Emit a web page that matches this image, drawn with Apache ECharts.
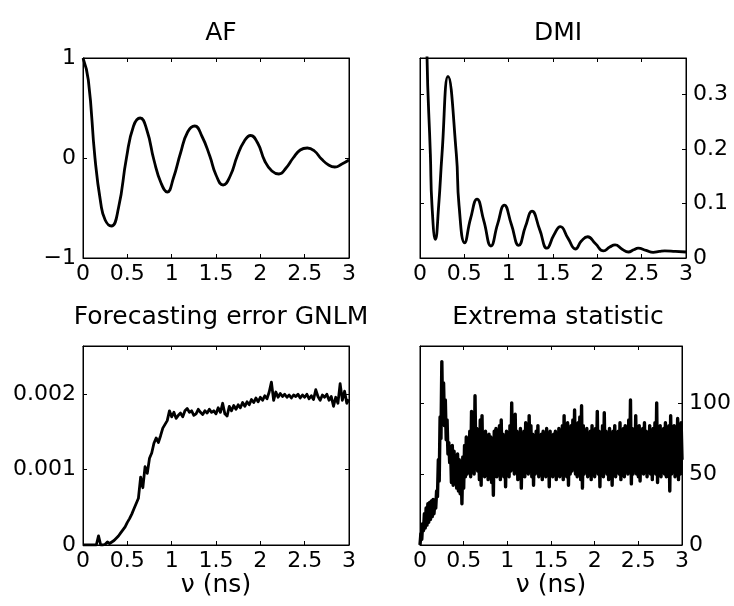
<!DOCTYPE html>
<html>
<head>
<meta charset="utf-8">
<script src="https://cdn.jsdelivr.net/npm/echarts@6/dist/echarts.min.js"></script>
<style>
html,body{margin:0;padding:0;background:#fff;}
#chart{width:734px;height:606px;}
</style>
</head>
<body>
<div id="chart"></div>
<script>
// ---------- DATA ----------
var panelTitles = ['AF', 'DMI', 'Forecasting error GNLM', 'Extrema statistic'];
var xLabel = '\u03bd (ns)';
var xTicks = [0, 0.5, 1, 1.5, 2, 2.5, 3];

// AF (autocorrelation function): [nu, value]
var afX = [0, 0.06, 0.135, 0.2, 0.25, 0.32, 0.4, 0.49, 0.57, 0.645, 0.72, 0.8, 0.88, 0.95, 1.02, 1.1, 1.18, 1.26, 1.34, 1.43, 1.5, 1.58, 1.66, 1.74, 1.82, 1.89, 1.97, 2.05, 2.13, 2.21, 2.29, 2.37, 2.45, 2.53, 2.61, 2.69, 2.77, 2.84, 2.92, 3.0];
var afY = [1.0, 0.78, 0.0, -0.45, -0.62, -0.68, -0.5, 0.0, 0.32, 0.40, 0.28, -0.02, -0.25, -0.34, -0.2, 0.05, 0.26, 0.32, 0.22, 0.02, -0.17, -0.27, -0.18, 0.02, 0.17, 0.225, 0.15, -0.03, -0.13, -0.16, -0.1, 0.0, 0.08, 0.1, 0.07, -0.01, -0.07, -0.09, -0.06, -0.02];

// DMI: [nu, value]
var dmiX = [0.04, 0.079, 0.117, 0.135, 0.174, 0.211, 0.248, 0.316, 0.41, 0.44, 0.504, 0.57, 0.643, 0.72, 0.80, 0.875, 0.951, 1.03, 1.113, 1.19, 1.263, 1.35, 1.432, 1.51, 1.583, 1.67, 1.753, 1.82, 1.891, 1.98, 2.07, 2.14, 2.2, 2.28, 2.35, 2.41, 2.46, 2.55, 2.63, 2.7, 2.76, 2.88, 3.0];
var dmiY = [0.9, 0.37, 0.19, 0.097, 0.034, 0.097, 0.19, 0.333, 0.19, 0.097, 0.028, 0.072, 0.108, 0.068, 0.022, 0.062, 0.097, 0.062, 0.023, 0.058, 0.086, 0.052, 0.018, 0.042, 0.0575, 0.036, 0.0165, 0.031, 0.039, 0.026, 0.013, 0.02, 0.024, 0.016, 0.011, 0.015, 0.018, 0.014, 0.0104, 0.012, 0.013, 0.012, 0.011];

// Forecasting error GNLM, sampled every 0.025 ns from 0
var fcStep = 0.025;
var fcY = [0, 0, 0, 0, 0, 0, 0, 0.00012, 0, 0, 0.00001, 0.00004, 0.00002, 0.00004, 0.00006, 0.00009, 0.00012, 0.00016, 0.0002, 0.00024,
  0.0003, 0.00035, 0.00041, 0.00048, 0.00055, 0.00062, 0.0009, 0.00076, 0.00104, 0.00095, 0.00115, 0.00122, 0.00135, 0.00142, 0.00136, 0.00145, 0.00155, 0.0016, 0.00165, 0.00178,
  0.0017, 0.00176, 0.00168, 0.00172, 0.00175, 0.0017, 0.00178, 0.00181, 0.00176, 0.00178, 0.00172, 0.00174, 0.0018, 0.00176, 0.00173, 0.00178, 0.00175, 0.0018, 0.00176, 0.00178,
  0.00174, 0.00182, 0.00176, 0.00188, 0.00174, 0.00171, 0.00184, 0.00178, 0.00185, 0.0018, 0.00186, 0.00182, 0.00189, 0.00184, 0.0019, 0.00186, 0.00193, 0.00189, 0.00195, 0.0019,
  0.00196, 0.00192, 0.00198, 0.00194, 0.00203, 0.00216, 0.00192, 0.00203, 0.00196, 0.00201, 0.00197, 0.002, 0.00196, 0.00199, 0.00195, 0.00199, 0.00197, 0.002, 0.00195, 0.00199,
  0.00196, 0.002, 0.00194, 0.00198, 0.00193, 0.00206, 0.00197, 0.00192, 0.00199, 0.00196, 0.002, 0.00192, 0.00197, 0.00184, 0.00196, 0.00188, 0.00214, 0.00192, 0.00204, 0.00188,
  0.00193];

// Extrema statistic, sampled every 0.01 ns from 0
var exStep = 0.01;
var exY = [0, 8, 4, 15, 10, 22, 12, 26, 14, 29, 16, 30, 18, 31, 20, 32, 22, 30, 26, 38,
  34, 60, 45, 90, 75, 129, 85, 114, 84, 102, 74, 88, 64, 72, 58, 68, 44, 70, 42, 66,
  45, 62, 40, 64, 38, 60, 36, 58, 29, 62, 40, 70, 48, 76, 50, 74, 52, 80, 48, 94,
  55, 78, 50, 105, 56, 82, 52, 76, 46, 88, 42, 91, 50, 78, 48, 80, 54, 72, 46, 78,
  50, 76, 44, 74, 35, 80, 52, 82, 48, 76, 50, 84, 46, 88, 52, 78, 48, 74, 41, 80,
  54, 78, 48, 84, 52, 100, 56, 84, 50, 92, 52, 80, 46, 78, 50, 82, 40, 76, 52, 80,
  48, 86, 54, 78, 50, 91, 52, 84, 48, 78, 42, 76, 50, 80, 54, 84, 48, 74, 52, 78,
  46, 80, 50, 76, 48, 82, 54, 78, 41, 80, 50, 74, 48, 78, 52, 80, 46, 76, 54, 82,
  48, 78, 50, 84, 46, 91, 52, 80, 48, 86, 42, 78, 50, 84, 52, 88, 56, 95, 50, 82,
  48, 86, 54, 90, 46, 98, 40, 84, 50, 78, 54, 82, 48, 76, 50, 80, 46, 84, 52, 78,
  48, 82, 54, 94, 50, 80, 41, 78, 52, 84, 48, 93, 54, 80, 50, 76, 46, 82, 52, 78,
  42, 80, 54, 84, 48, 76, 52, 80, 50, 86, 46, 78, 54, 82, 48, 84, 52, 80, 50, 88,
  54, 102, 43, 82, 50, 78, 55, 91, 50, 80, 48, 84, 45, 78, 52, 82, 50, 86, 54, 80,
  48, 76, 52, 84, 50, 78, 46, 82, 54, 86, 50, 100, 44, 80, 52, 84, 48, 78, 54, 82,
  50, 86, 48, 78, 52, 84, 38, 91, 50, 80, 54, 84, 48, 78, 52, 89, 46, 82, 50, 86,
  60];

// Y axis ranges / ticks
var yMins = [-1, 0, 0, 0];
var yMaxs = [1, 0.3667, 0.00264, 140];
var yIntervals = [1, 0.1, 0.001, 50];

// ---------- BUILD ----------
function pairs(xs, ys) { return xs.map(function (x, i) { return [x, ys[i]]; }); }
function stepped(step, ys) { return ys.map(function (y, i) { return [+(i * step).toFixed(4), y]; }); }

var FONT = 'DejaVu Sans';
var FS_TICK = 22;
var FS_TITLE = 25;
var grids = [
  { left: 83, top: 58, width: 266, height: 200 },
  { left: 420, top: 58, width: 266, height: 200 },
  { left: 83, top: 346, width: 266, height: 199 },
  { left: 420, top: 346, width: 266, height: 199 }
];
var labelSide = ['left', 'right', 'left', 'right'];

var xAxes = [], yAxes = [], series = [], titles = [];
grids.forEach(function (g, i) {
  g.show = true; g.borderColor = '#000'; g.borderWidth = 1; g.backgroundColor = '#fff';
  var bottomRow = i >= 2;
  xAxes.push({
    type: 'value', gridIndex: i, min: 0, max: 3, interval: 0.5, position: 'bottom',
    axisLine: { show: true, onZero: false, lineStyle: { color: '#000', width: 1 } },
    axisTick: { show: true, inside: true, length: 4, lineStyle: { color: '#000' } },
    splitLine: { show: false },
    axisLabel: { show: true, color: '#000', fontFamily: FONT, fontSize: FS_TICK, margin: 5,
      formatter: function (v) { return String(v); } },
    name: bottomRow ? xLabel : '', nameLocation: 'middle', nameGap: 26,
    nameTextStyle: { color: '#000', fontFamily: FONT, fontSize: FS_TITLE }
  });
  xAxes.push({
    type: 'value', gridIndex: i, min: 0, max: 3, interval: 0.5, position: 'top',
    axisLine: { show: true, onZero: false, lineStyle: { color: '#000', width: 1 } },
    axisTick: { show: true, inside: true, length: 4, lineStyle: { color: '#000' } },
    splitLine: { show: false }, axisLabel: { show: false }
  });
  var side = labelSide[i];
  var other = side === 'left' ? 'right' : 'left';
  yAxes.push({
    type: 'value', gridIndex: i, min: yMins[i], max: yMaxs[i], interval: yIntervals[i], position: side,
    axisLine: { show: true, onZero: false, lineStyle: { color: '#000', width: 1 } },
    axisTick: { show: true, inside: true, length: 4, lineStyle: { color: '#000' } },
    splitLine: { show: false },
    axisLabel: { show: true, color: '#000', fontFamily: FONT, fontSize: FS_TICK, margin: 7, showMaxLabel: i === 0,
      formatter: function (v) { return String(v).replace('-', '\u2212'); } }
  });
  yAxes.push({
    type: 'value', gridIndex: i, min: yMins[i], max: yMaxs[i], interval: yIntervals[i], position: other,
    axisLine: { show: true, onZero: false, lineStyle: { color: '#000', width: 1 } },
    axisTick: { show: true, inside: true, length: 4, lineStyle: { color: '#000' } },
    splitLine: { show: false }, axisLabel: { show: false }
  });
  titles.push({
    text: panelTitles[i], left: g.left + g.width / 2, top: i < 2 ? 16 : 300, textAlign: 'center',
    textStyle: { color: '#000', fontFamily: FONT, fontSize: FS_TITLE, fontWeight: 'normal' }
  });
});

var datasets = [pairs(afX, afY), pairs(dmiX, dmiY), stepped(fcStep, fcY), stepped(exStep, exY)];
var smoothOn = [0.5, 0.5, false, false];
var widths = [2.8, 2.8, 2.8, 3.4];
datasets.forEach(function (d, i) {
  series.push({
    type: 'line', xAxisIndex: i * 2, yAxisIndex: i * 2, data: d, showSymbol: false, symbol: 'none',
    smooth: smoothOn[i], clip: true, animation: false,
    lineStyle: { color: '#000', width: widths[i], join: 'round' }
  });
});

var chart = echarts.init(document.getElementById('chart'), null, { renderer: 'canvas' });
chart.setOption({
  animation: false,
  backgroundColor: '#fff',
  title: titles,
  grid: grids,
  xAxis: xAxes,
  yAxis: yAxes,
  series: series
});
</script>
</body>
</html>
